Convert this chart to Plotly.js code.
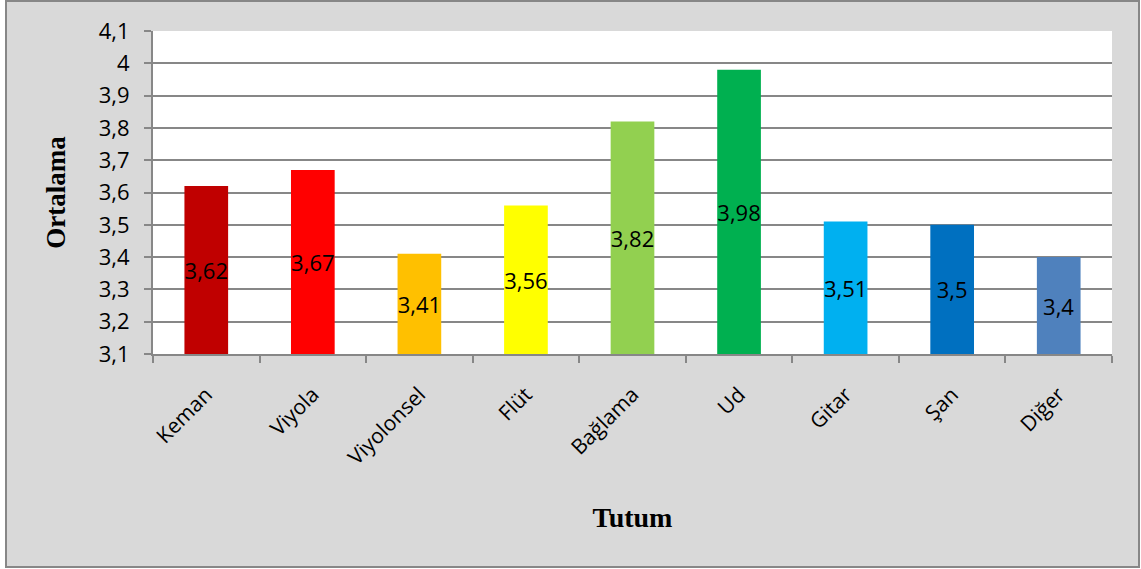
<!DOCTYPE html>
<html>
<head>
<meta charset="utf-8">
<script src="https://cdn.plot.ly/plotly-3.0.1.min.js"></script>
<style>
  html, body { margin: 0; padding: 0; background: #ffffff; }
  #frame { position: absolute; left: 5px; top: 0px; width: 1131px; height: 564px; border: 2px solid #878787; background: #d9d9d9; }
  #chart { width: 1131px; height: 564px; }
</style>
</head>
<body>
<div id="frame"><div id="chart"></div></div>
<script>
const categories = ["Keman", "Viyola", "Viyolonsel", "Flüt", "Bağlama", "Ud", "Gitar", "Şan", "Diğer"];
const values = [3.62, 3.67, 3.41, 3.56, 3.82, 3.98, 3.51, 3.5, 3.4];
const barColors = ["#c00000", "#ff0000", "#ffc000", "#ffff00", "#92d050", "#00b050", "#00b0f0", "#0070c0", "#4f81bd"];
const axisBase = 3.1;
const labels = values.map(v => String(v).replace('.', ','));

const trace = {
  type: 'bar',
  x: categories,
  y: values.map(v => v - axisBase),
  base: axisBase,
  width: 0.41,
  marker: { color: barColors, line: { width: 0 } },
  text: labels,
  texttemplate: '%{text}',
  textposition: 'inside',
  insidetextanchor: 'middle',
  textangle: 0,
  constraintext: 'none',
  insidetextfont: { family: 'Open Sans, sans-serif', size: 22, color: '#000000' },
  hoverinfo: 'x+text'
};

const layout = {
  width: 1131,
  height: 564,
  paper_bgcolor: '#d9d9d9',
  plot_bgcolor: '#ffffff',
  separators: ', ',
  margin: { l: 146, r: 26, t: 29, b: 212 },
  showlegend: false,
  font: { family: 'Open Sans, sans-serif', color: '#000000' },
  xaxis: {
    type: 'category',
    tickangle: -45,
    tickson: 'boundaries',
    ticks: 'outside',
    ticklen: 7,
    tickwidth: 2,
    tickcolor: '#878787',
    showline: true,
    linecolor: '#878787',
    linewidth: 2,
    showgrid: false,
    ticklabelstandoff: 18,
    tickfont: { family: 'Open Sans, sans-serif', size: 21, color: '#000000' },
    title: { text: 'Tutum', standoff: 38, font: { family: 'Liberation Serif, Times New Roman, serif', size: 28, color: '#000000', weight: 'bold' } }
  },
  yaxis: {
    range: [3.1, 4.1],
    tick0: 3.1,
    dtick: 0.1,
    ticks: 'outside',
    ticklen: 7,
    tickwidth: 2,
    tickcolor: '#878787',
    showline: true,
    linecolor: '#878787',
    linewidth: 2,
    showgrid: true,
    gridcolor: '#878787',
    gridwidth: 2,
    zeroline: false,
    ticklabelstandoff: 10,
    tickfont: { family: 'Open Sans, sans-serif', size: 22, color: '#000000' },
    title: { text: 'Ortalama', standoff: 25, font: { family: 'Liberation Serif, Times New Roman, serif', size: 27, color: '#000000', weight: 'bold' } }
  }
};

Plotly.newPlot('chart', [trace], layout, { displayModeBar: false, staticPlot: true });
</script>
</body>
</html>
